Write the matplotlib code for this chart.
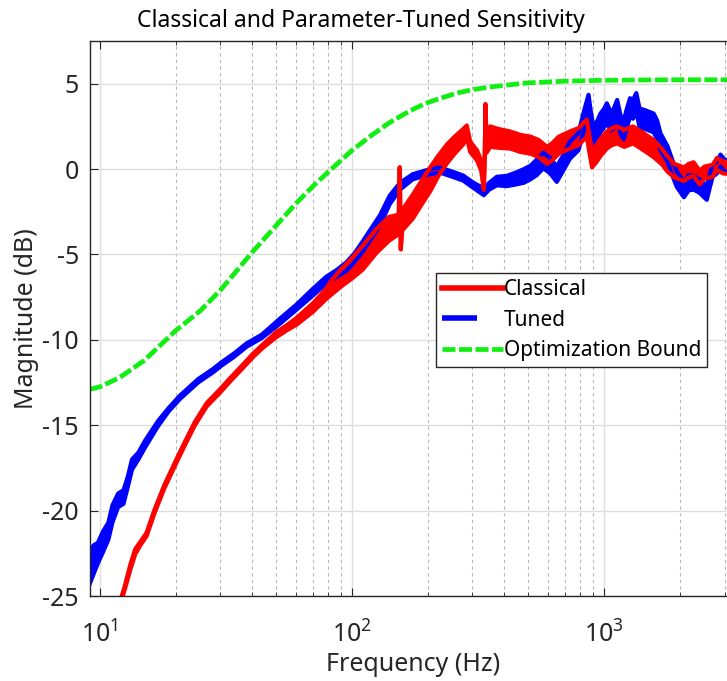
import matplotlib
matplotlib.use("Agg")
import matplotlib.pyplot as plt
import numpy as np
from matplotlib.lines import Line2D
from matplotlib.ticker import LogLocator, FixedLocator

plt.rcParams['font.family'] = ['Noto Sans', 'DejaVu Sans']
plt.rcParams['mathtext.fontset'] = 'custom'
plt.rcParams['mathtext.rm'] = 'Noto Sans'
plt.rcParams['mathtext.it'] = 'Noto Sans'
plt.rcParams['axes.unicode_minus'] = False

# optimization bound (green dashed)
f_bound = [9.1, 10, 12, 15, 20, 25, 30, 40, 50, 60, 70, 80, 100, 120, 140, 160, 180,
           200, 230, 260, 300, 350, 400, 500, 700, 1000, 1500, 2000, 3400]
db_bound = [-12.9, -12.75, -12.2, -11.2, -9.45, -8.3, -7.1, -4.9, -3.3, -2.0, -1.0,
            -0.2, 1.1, 2.0, 2.7, 3.2, 3.6, 3.9, 4.2, 4.45, 4.65, 4.8, 4.9, 5.05, 5.15,
            5.2, 5.22, 5.23, 5.23]

# tuned sensitivity (blue): centre and half-spread of the measured band
f_tuned = [9.1, 9.5, 9.8, 10.3, 10.8, 11.2, 11.8, 12.4, 12.9, 13.4, 14.2, 15.1, 17.0,
           18.7, 20.8, 24.5, 28.1, 30.4, 34, 38.2, 43.8, 51.8, 60, 70, 79, 87, 95,
           102, 110, 120, 129, 141, 155, 174, 204, 223, 250, 276, 302, 333, 350,
           375, 410, 447, 480, 510, 540, 573, 610, 648, 690, 730, 790, 826, 866,
           885, 906, 940, 966, 1000, 1024, 1060, 1085, 1125, 1160, 1195, 1230,
           1265, 1300, 1340, 1380, 1450, 1570, 1620, 1670, 1780, 1860, 1940, 2070,
           2160, 2260, 2390, 2550, 2620, 2690, 2800, 2890, 3000, 3400]
db_tuned = [-23.3, -22.8, -22.5, -21.8, -21.2, -20.2, -19.4, -19.2, -18.3, -17.3,
            -16.8, -16.1, -14.9, -14.1, -13.35, -12.4, -11.8, -11.4, -10.9, -10.3,
            -9.8, -8.9, -8.1, -7.2, -6.5, -6.1, -5.7, -5.2, -4.55, -3.7, -3.0, -1.8,
            -1.0, -0.45, -0.15, -0.06, -0.3, -0.53, -0.94, -1.33, -1.0, -0.7, -0.7,
            -0.55, -0.4, -0.2, 0.1, 0.5, 0.2, -0.3, 0.4, 1.1, 1.6, 2.7, 3.8, 2.8, 1.9,
            2.3, 2.7, 3.0, 3.3, 2.8, 2.9, 3.5, 2.6, 2.3, 3.0, 3.6, 3.5, 3.9, 3.0, 2.9,
            2.7, 2.3, 1.6, 0.9, 0.1, -0.6, -1.2, -0.8, -0.8, -1.0, -1.4, -0.7, -0.1,
            0.1, 0.5, 0.2, 0.1]
sp_tuned = [1.0, 0.8, 0.6, 0.6, 0.5, 0.5, 0.4, 0.4, 0.3, 0.3, 0.2, 0.2, 0.15, 0.1,
            0.1, 0.1, 0.1, 0.1, 0.1, 0.1, 0.1, 0.15, 0.15, 0.2, 0.2, 0.2, 0.25, 0.25,
            0.3, 0.3, 0.3, 0.25, 0.2, 0.15, 0.15, 0.15, 0.15, 0.15, 0.15, 0.2, 0.2,
            0.25, 0.3, 0.35, 0.4, 0.4, 0.45, 0.45, 0.45, 0.45, 0.45, 0.5, 0.5, 0.55,
            0.55, 0.55, 0.55, 0.55, 0.55, 0.55, 0.55, 0.55, 0.55, 0.55, 0.55, 0.55,
            0.55, 0.55, 0.55, 0.55, 0.55, 0.55, 0.55, 0.55, 0.5, 0.45, 0.45, 0.45,
            0.45, 0.45, 0.4, 0.4, 0.4, 0.4, 0.35, 0.35, 0.35, 0.35, 0.35]

# classical sensitivity (red)
f_class = [11.9, 12.5, 13.2, 13.8, 14.5, 15.3, 16.5, 18.0, 19.8, 21.5, 23.8, 26.5,
           29.9, 33, 36.6, 40.5, 44, 50, 55, 60.4, 70, 79, 82, 90, 100, 110, 125,
           140, 150, 153, 154.5, 156, 158, 174, 190, 204, 220, 238, 255, 276, 285,
           294, 313, 325, 333, 336, 338, 341, 353, 380, 424, 465, 510, 550, 593, 620,
           660, 730, 790, 853, 870, 894, 930, 970, 1024, 1070, 1125, 1200, 1300,
           1400, 1570, 1700, 1780, 1900, 2070, 2160, 2260, 2390, 2500, 2690, 2800,
           2950, 3400]
db_class = [-25.6, -24.6, -23.3, -22.4, -21.9, -21.4, -20.0, -18.6, -17.3, -16.2,
            -14.9, -13.8, -13.0, -12.3, -11.6, -10.9, -10.4, -9.7, -9.3, -8.9, -8.1,
            -7.3, -7.0, -6.4, -5.8, -5.2, -4.2, -3.5, -3.3, -3.1, 0.1, -4.7, -3.0,
            -2.2, -1.3, -0.6, 0.2, 0.9, 1.4, 1.9, 2.2, 1.3, 0.8, 0.2, -1.2, 1.0, 3.8,
            1.5, 1.9, 1.8, 1.7, 1.5, 1.4, 1.2, 0.8, 1.0, 1.4, 1.7, 1.9, 2.4, 1.6, 0.6,
            0.9, 1.3, 1.7, 1.9, 2.0, 1.8, 2.0, 1.7, 1.2, 0.7, 0.3, -0.1, -0.3, -0.1,
            0.0, -0.5, -0.2, -0.1, 0.3, 0.1, 0.0]
sp_class = [0.1, 0.1, 0.15, 0.15, 0.1, 0.1, 0.1, 0.1, 0.1, 0.1, 0.1, 0.1, 0.1, 0.1,
            0.1, 0.1, 0.1, 0.15, 0.15, 0.2, 0.25, 0.3, 0.4, 0.5, 0.6, 0.7, 0.7, 0.7,
            0.6, 0.5, 0.0, 0.0, 0.6, 0.7, 0.7, 0.7, 0.6, 0.55, 0.5, 0.45, 0.35, 0.3,
            0.3, 0.3, 0.0, 0.0, 0.0, 0.55, 0.6, 0.55, 0.5, 0.5, 0.5, 0.5, 0.5, 0.5,
            0.5, 0.5, 0.5, 0.5, 0.5, 0.5, 0.5, 0.5, 0.5, 0.5, 0.5, 0.5, 0.5, 0.5,
            0.5, 0.45, 0.45, 0.4, 0.4, 0.4, 0.4, 0.4, 0.35, 0.35, 0.35, 0.35, 0.35]

fig = plt.figure(figsize=(7.27, 6.81), dpi=100)
# the axes box runs a little past the right edge of the picture
ax = fig.add_axes([90 / 727, 85 / 681, 646 / 727, 555 / 681])

ax.grid(True, which='major', color='#dedede', linestyle='-', linewidth=1.0)
ax.grid(True, which='minor', axis='x', color='#b8b8b8', linestyle=(0, (3, 3)), linewidth=0.8)
ax.set_axisbelow(True)

ft = np.array(f_tuned)
dt = np.array(db_tuned)
st = np.array(sp_tuned)
ax.fill_between(ft, dt - st, dt + st, color='#0000ff', linewidth=0)
ax.plot(ft, dt + st, color='#0000ff', linewidth=3.0)
ax.plot(ft, dt - st, color='#0000ff', linewidth=3.0)

fc = np.array(f_class)
dc = np.array(db_class)
sc = np.array(sp_class)
ax.fill_between(fc, dc - sc, dc + sc, color='#ff0000', linewidth=0)
ax.plot(fc, dc + sc, color='#ff0000', linewidth=3.0)
ax.plot(fc, dc - sc, color='#ff0000', linewidth=3.0)

ax.plot(f_bound, db_bound, color='#11ee11', linewidth=3.4, dashes=(2.75, 0.75))

ax.set_xscale('log')
ax.set_xlim(9.13, 3330)
ax.set_ylim(-25, 7.5)
ax.yaxis.set_major_locator(FixedLocator([-25, -20, -15, -10, -5, 0, 5]))
ax.xaxis.set_minor_locator(LogLocator(base=10, subs=np.arange(2, 10)))

for sp in ax.spines.values():
    sp.set_color('#262626')
    sp.set_linewidth(1.0)
ax.tick_params(which='both', direction='in', top=True, right=True, colors='#262626',
               labelsize=18)
ax.tick_params(which='major', length=6)
ax.tick_params(which='minor', length=3)
ax.tick_params(axis='x', pad=18)
ax.tick_params(axis='y', pad=8)

fig.text(361 / 727, 1 - 21 / 681, 'Classical and Parameter-Tuned Sensitivity',
         fontsize=16.5, color='black', ha='center', va='center')
ax.set_xlabel('Frequency (Hz)', fontsize=18, color='#262626', labelpad=3)
ax.set_ylabel('Magnitude (dB)', fontsize=18, color='#262626', labelpad=2)

handles = [Line2D([], [], color='#ff0000', linewidth=4),
           Line2D([], [], color='#0000ff', linewidth=4, dashes=(6.3, 20)),
           Line2D([], [], color='#11ee11', linewidth=3.4, dashes=(2.75, 0.75))]
leg = ax.legend(handles, ['Classical', 'Tuned', 'Optimization Bound'],
                loc='upper left', bbox_to_anchor=(346 / 646, 1 - 232 / 555),
                fontsize=15, handlelength=2.9, handletextpad=0.05, borderpad=0.3,
                labelspacing=0.45, fancybox=False, framealpha=1, edgecolor='#262626',
                borderaxespad=0)
leg.get_frame().set_linewidth(1.0)

plt.savefig('out.png', dpi=100)
